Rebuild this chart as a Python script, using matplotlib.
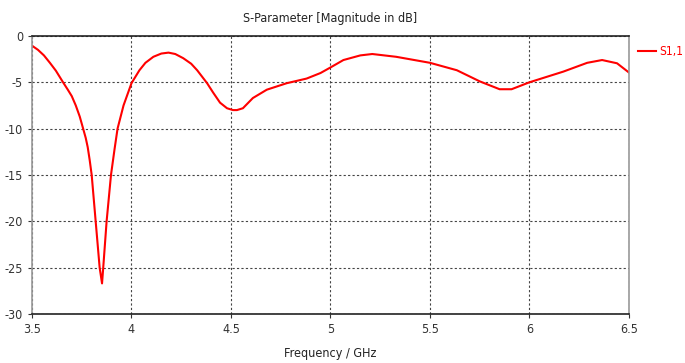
import matplotlib
matplotlib.use("Agg")
import matplotlib.pyplot as plt

plt.rcParams['font.family'] = ['DejaVu Sans']
plt.rcParams['font.stretch'] = 'condensed'

# values
freq = [3.5, 3.53, 3.56, 3.59, 3.62, 3.656, 3.68, 3.70, 3.72, 3.74, 3.757,
        3.77, 3.78, 3.79, 3.80, 3.82, 3.84, 3.852, 3.858, 3.875, 3.897,
        3.915, 3.93, 3.96, 4.0, 4.04, 4.07, 4.11, 4.15, 4.186, 4.22, 4.26,
        4.30, 4.33, 4.38, 4.41, 4.445, 4.48, 4.51, 4.53, 4.56, 4.61, 4.68,
        4.78, 4.88, 4.95, 5.0, 5.065, 5.15, 5.21, 5.33, 5.5, 5.635, 5.75,
        5.85, 5.91, 6.0, 6.17, 6.29, 6.365, 6.44, 6.5]
s11 = [-1.05, -1.5, -2.1, -2.9, -3.75, -5.0, -5.8, -6.5, -7.5, -8.7, -10.0,
       -11.0, -12.0, -13.4, -15.0, -20.0, -25.0, -26.7, -25.0, -20.0, -15.0,
       -12.2, -10.0, -7.5, -5.1, -3.7, -2.9, -2.25, -1.9, -1.8, -1.95, -2.4,
       -3.0, -3.7, -5.1, -6.1, -7.2, -7.8, -8.0, -8.0, -7.8, -6.7, -5.8,
       -5.1, -4.6, -4.0, -3.4, -2.6, -2.1, -1.95, -2.25, -2.9, -3.7, -4.9,
       -5.75, -5.75, -5.0, -3.85, -2.9, -2.6, -2.95, -3.95]

xticks = [3.5, 4, 4.5, 5, 5.5, 6, 6.5]
xlabels = ['3.5', '4', '4.5', '5', '5.5', '6', '6.5']
yticks = [0, -5, -10, -15, -20, -25, -30]
ylabels = ['0', '-5', '-10', '-15', '-20', '-25', '-30']

fig = plt.figure(figsize=(6.85, 3.63), dpi=100)
ax = fig.add_axes([0.0467, 0.135, 0.8715, 0.766])

line, = ax.plot(freq, s11, color='#ff0000', lw=1.5, label='S1,1')

ax.set_xlim(3.5, 6.5)
ax.set_ylim(-30, 0)
ax.set_xticks(xticks)
ax.set_xticklabels(xlabels)
ax.set_yticks(yticks)
ax.set_yticklabels(ylabels)
ax.tick_params(labelsize=9, length=3, width=0.8, colors='#333333')

ax.grid(True, color='#444444', linestyle=(0, (2, 2)), lw=0.8)

ax.spines['top'].set_color('#222222')
ax.spines['bottom'].set_color('#222222')
ax.spines['left'].set_color('#999999')
ax.spines['right'].set_color('#999999')
for s in ax.spines.values():
    s.set_linewidth(1.2)

ax.set_title('S-Parameter [Magnitude in dB]', fontsize=9, color='#222222', pad=10)
ax.set_xlabel('Frequency / GHz', fontsize=9, color='#222222', labelpad=8)

leg = ax.legend(loc='upper left', bbox_to_anchor=(1.0, 1.0), frameon=False,
                fontsize=8.5, handlelength=1.5, handletextpad=0.3,
                borderaxespad=0.4)
for t in leg.get_texts():
    t.set_color('#ff0000')

fig.savefig('out.png', dpi=100)
